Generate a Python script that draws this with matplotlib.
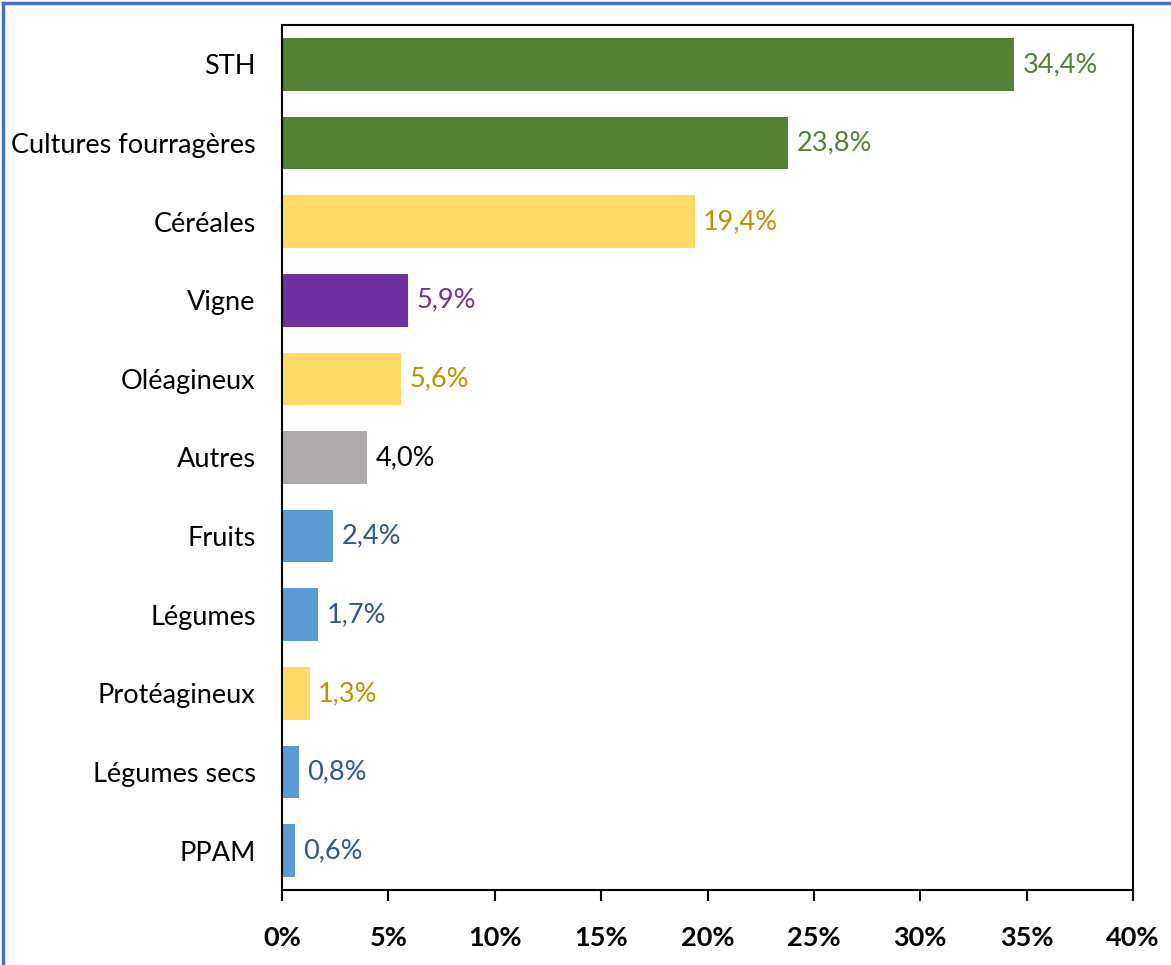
import matplotlib
matplotlib.use("Agg")
import matplotlib.pyplot as plt
from matplotlib.lines import Line2D

categories = ["STH", "Cultures fourragères", "Céréales", "Vigne", "Oléagineux",
              "Autres", "Fruits", "Légumes", "Protéagineux", "Légumes secs", "PPAM"]
values = [34.4, 23.8, 19.4, 5.9, 5.6, 4.0, 2.4, 1.7, 1.3, 0.8, 0.6]
labels = ["34,4%", "23,8%", "19,4%", "5,9%", "5,6%", "4,0%", "2,4%", "1,7%", "1,3%", "0,8%", "0,6%"]
bar_colors = ["#548235", "#548235", "#FFD966", "#7030A0", "#FFD966", "#AEAAAA",
              "#5B9BD5", "#5B9BD5", "#FFD966", "#5B9BD5", "#5B9BD5"]
label_colors = ["#548235", "#548235", "#BF9000", "#7030A0", "#BF9000", "#000000",
                "#2F5597", "#2F5597", "#BF9000", "#2F5597", "#2F5597"]
xticks = [0, 5, 10, 15, 20, 25, 30, 35, 40]
xticklabels = ["0%", "5%", "10%", "15%", "20%", "25%", "30%", "35%", "40%"]

plt.rcParams['font.family'] = ['Lato', 'DejaVu Sans']

fig = plt.figure(figsize=(11.71, 9.65), dpi=100)
W, H = 1171, 965
ax = fig.add_axes([282 / W, 1 - 890 / H, (1133 - 282) / W, (890 - 25) / H])

y = list(range(len(categories)))
ax.barh(y, values, height=0.67, color=bar_colors)
ax.set_ylim(len(categories) - 0.5, -0.5)
ax.set_xlim(0, 40)
ax.set_yticks(y)
ax.set_yticklabels(categories, fontsize=19.5)
ax.tick_params(axis='y', length=0, pad=19)
ax.set_xticks(xticks)
ax.set_xticklabels(xticklabels, fontsize=19.5, fontweight='bold')
ax.tick_params(axis='x', length=8, width=1.5, direction='out', pad=18)
for s in ax.spines.values():
    s.set_linewidth(1.5)
    s.set_color('black')

for yi, v, lab, c in zip(y, values, labels, label_colors):
    ax.text(v + 0.4, yi, lab, color=c, fontsize=19.5, va='center', ha='left')

# blue frame (left and top edges)
fig.add_artist(Line2D([3 / W, 3 / W], [0, 1 - 3 / H], transform=fig.transFigure, color='#4472C4', lw=2.5))
fig.add_artist(Line2D([3 / W, 1], [1 - 3 / H, 1 - 3 / H], transform=fig.transFigure, color='#4472C4', lw=2.5))

fig.savefig("out.png", dpi=100)
